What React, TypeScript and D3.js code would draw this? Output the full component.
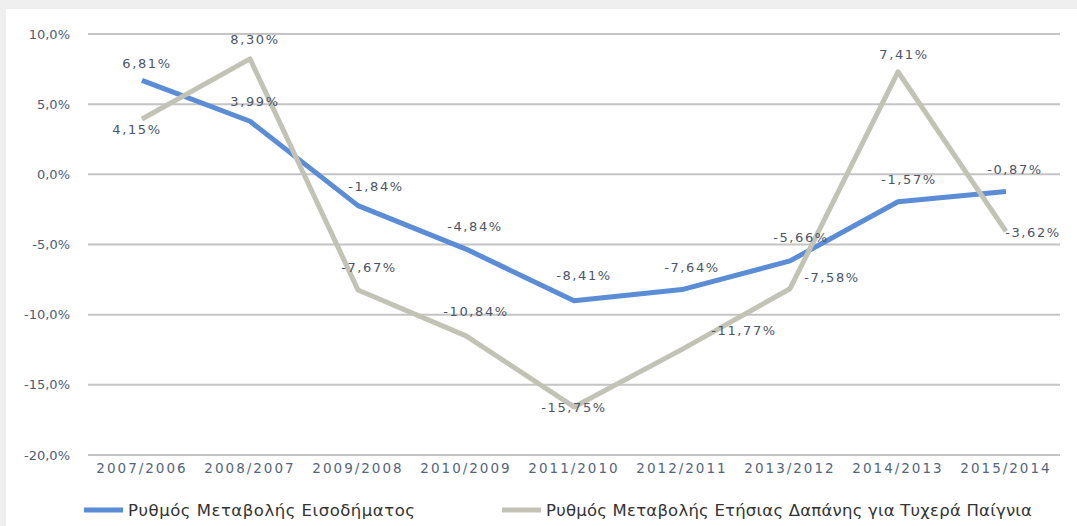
import React from "react";
import * as d3 from "d3";

const categories = [
  "2007/2006", "2008/2007", "2009/2008", "2010/2009", "2011/2010",
  "2012/2011", "2013/2012", "2014/2013", "2015/2014",
];
const incomeChange = [6.81, 3.99, -1.84, -4.84, -8.41, -7.64, -5.66, -1.57, -0.87];
const gamblingChange = [4.15, 8.3, -7.67, -10.84, -15.75, -11.77, -7.58, 7.41, -3.62];
const yTicks = [10, 5, 0, -5, -10, -15, -20];
const seriesNames = [
  "Ρυθμός Μεταβολής Εισοδήματος",
  "Ρυθμός Μεταβολής Ετήσιας Δαπάνης για Τυχερά Παίγνια",
];

// label placement offsets (px) relative to each point
const incomeLabelOffsets: [number, number][] = [
  [5, -17], [5, -20], [18, -19], [9, -23], [10, -25], [10, -22], [11, -23], [11, -22], [9, -22],
];
const gamblingLabelOffsets: [number, number][] = [
  [-5, 11], [5, -19], [11, -23], [10, -24], [0, 1], [62, -19], [42, -11], [6, -17], [27, 1],
];

const W = 1077;
const H = 526;
const fmt = (v: number) => v.toFixed(2).replace(".", ",") + "%";
const fmtTick = (v: number) => v.toFixed(1).replace(".", ",") + "%";

export default function App() {
  const left = 88, right = 1060, top = 34, bottom = 455;
  const x = d3.scaleBand<string>().domain(categories).range([left, right]);
  const cx = (c: string) => (x(c) as number) + x.bandwidth() / 2;
  const yAxis = d3.scaleLinear().domain([-20, 10]).range([bottom, top]);
  // the series in the source are plotted on a slightly different scale than the gridlines
  const ySeries = d3.scaleLinear().domain([-19.07, 10.02]).range([bottom, top]);

  const line = d3
    .line<number>()
    .x((_, i) => cx(categories[i]))
    .y((d) => ySeries(d));

  const blue = "#5b8cd6";
  const gray = "#c2c3b5";
  const labelColor = "#4c5468";
  const font = "'DejaVu Sans', sans-serif";

  return (
    <div style={{ position: "fixed", left: 0, top: 0 }}>
      <svg width={W} height={H} style={{ display: "block" }}>
        <rect x={0} y={0} width={W} height={H} fill="#efefef" />
        <rect x={6} y={9} width={W - 6} height={H - 9} fill="#ffffff" />
        {yTicks.map((t) => (
          <g key={t}>
            <line x1={left} x2={right} y1={yAxis(t)} y2={yAxis(t)} stroke="#c4c4c4" strokeWidth={2} />
            <text
              x={70}
              y={yAxis(t)}
              textAnchor="end"
              dominantBaseline="central"
              fontFamily={font}
              fontSize={13}
              fill="#4e5c76"
            >
              {fmtTick(t)}
            </text>
          </g>
        ))}
        {categories.map((c) => (
          <text
            key={c}
            x={cx(c)}
            y={468}
            textAnchor="middle"
            dominantBaseline="central"
            fontFamily={font}
            fontSize={13.5}
            letterSpacing={2}
            fill="#56647c"
          >
            {c}
          </text>
        ))}
        <path d={line(incomeChange) || ""} fill="none" stroke={blue} strokeWidth={5} strokeLinejoin="round" />
        <path d={line(gamblingChange) || ""} fill="none" stroke={gray} strokeWidth={5} strokeLinejoin="round" />
        {incomeChange.map((v, i) => (
          <text
            key={"b" + i}
            x={cx(categories[i]) + incomeLabelOffsets[i][0]}
            y={ySeries(v) + incomeLabelOffsets[i][1]}
            textAnchor="middle"
            dominantBaseline="central"
            fontFamily={font}
            fontSize={13}
            letterSpacing={1.6}
            fill={labelColor}
          >
            {fmt(v)}
          </text>
        ))}
        {gamblingChange.map((v, i) => (
          <text
            key={"g" + i}
            x={cx(categories[i]) + gamblingLabelOffsets[i][0]}
            y={ySeries(v) + gamblingLabelOffsets[i][1]}
            textAnchor="middle"
            dominantBaseline="central"
            fontFamily={font}
            fontSize={13}
            letterSpacing={1.6}
            fill={labelColor}
          >
            {fmt(v)}
          </text>
        ))}
        {/* legend */}
        <line x1={84} x2={123} y1={510} y2={510} stroke={blue} strokeWidth={5} />
        <text
          x={128}
          y={510}
          dominantBaseline="central"
          fontFamily={font}
          fontSize={16.5}
          textLength={287}
          lengthAdjust="spacing"
          fill="#333333"
        >
          {seriesNames[0]}
        </text>
        <line x1={502} x2={541} y1={510} y2={510} stroke={gray} strokeWidth={5} />
        <text
          x={546}
          y={510}
          dominantBaseline="central"
          fontFamily={font}
          fontSize={16.5}
          textLength={486}
          lengthAdjust="spacing"
          fill="#333333"
        >
          {seriesNames[1]}
        </text>
      </svg>
    </div>
  );
}
